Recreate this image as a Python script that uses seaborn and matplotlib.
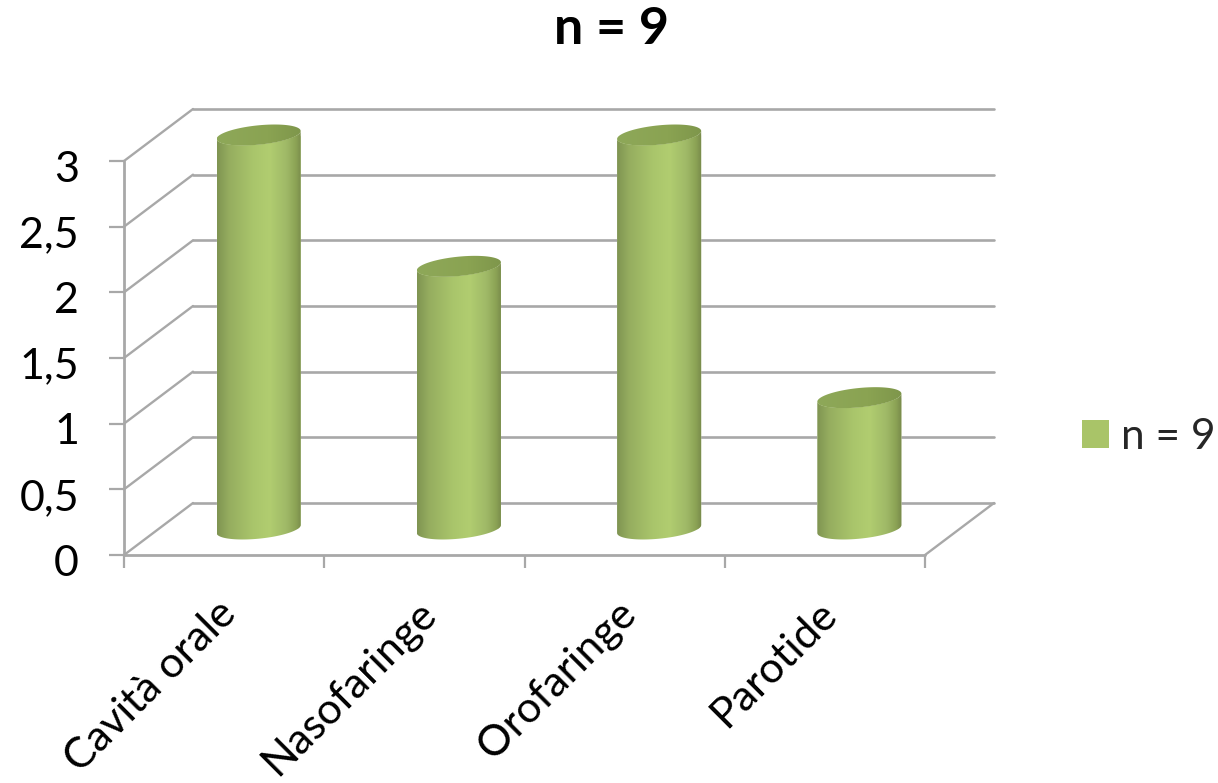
import numpy as np
import matplotlib
matplotlib.use("Agg")
import matplotlib.pyplot as plt
import seaborn as sns
from matplotlib.colors import LinearSegmentedColormap
from matplotlib.patches import Patch, PathPatch
from matplotlib.path import Path
from matplotlib.transforms import ScaledTranslation

categories = ["Cavità orale", "Nasofaringe", "Orofaringe", "Parotide"]
values = [3, 2, 3, 1]
series_name = "n = 9"
y_ticks = [0, 0.5, 1, 1.5, 2, 2.5, 3]
y_tick_labels = ["0", "0,5", "1", "1,5", "2", "2,5", "3"]

WIDTH, HEIGHT, DPI = 1218, 783, 100
# Front plane of the chart box, in pixels from the top-left corner
LEFT, RIGHT, BOTTOM, TOP = 124, 925, 555, 161
# Depth of the box, in pixels
DEPTH_X, DEPTH_Y = 69, 52
GRID = "#a8a8a8"

sns.set_style("white")
plt.rcParams["font.family"] = ["Lato", "DejaVu Sans"]

fig = plt.figure(figsize=(WIDTH / DPI, HEIGHT / DPI), dpi=DPI)
ax = fig.add_axes([LEFT / WIDTH, 1 - BOTTOM / HEIGHT,
                   (RIGHT - LEFT) / WIDTH, (BOTTOM - TOP) / HEIGHT])

sns.barplot(x=categories, y=values, ax=ax, width=0.42, color="#a9c468",
            saturation=1, zorder=3)
ax.set_xlim(-0.5, len(categories) - 0.5)
ax.set_ylim(0, 3)

px_x = (len(categories)) / (RIGHT - LEFT)
px_y = 3 / (BOTTOM - TOP)
dx, dy = DEPTH_X * px_x, DEPTH_Y * px_y

# Back wall and side wall grid lines, running from the front edge to the back
x0, x1 = ax.get_xlim()
for v in y_ticks:
    ax.plot([x0, x0 + dx], [v, v + dy], color=GRID, lw=1.7, clip_on=False,
            zorder=1, solid_capstyle="round")
    ax.plot([x0 + dx, x1 + dx], [v + dy, v + dy], color=GRID, lw=1.9,
            clip_on=False, zorder=1)
ax.plot([x1, x1 + dx], [0, dy], color=GRID, lw=1.7, clip_on=False, zorder=1,
        solid_capstyle="round")

# Cylinders stand halfway through the depth of the box
shift = ScaledTranslation(DEPTH_X / 2 / DPI, DEPTH_Y / 2 / DPI, fig.dpi_scale_trans)
bar_trans = ax.transData + shift

body_cmap = LinearSegmentedColormap.from_list(
    "body", [(0, "#7f9452"), (0.14, "#95ad5f"), (0.42, "#a9c56b"), (0.62, "#b1cd70"),
             (0.82, "#9fb967"), (0.93, "#8ca355"), (1, "#77894b")])
cap_cmap = LinearSegmentedColormap.from_list(
    "cap", [(0, "#8ea859"), (0.6, "#8aa352"), (1, "#7e964b")])
gradient = np.linspace(0, 1, 256).reshape(1, -1)

TILT = 4 * px_y
RY = 9.7 * px_y
t_front = np.linspace(np.pi, 2 * np.pi, 60)
t_all = np.linspace(0, 2 * np.pi, 120)


def ellipse(cx, cy, a, t):
    return cx + a * np.cos(t), cy + RY * np.sin(t) + TILT * np.cos(t)


for bar, value in zip(ax.patches, values):
    a = bar.get_width() / 2
    cx = bar.get_x() + a
    h = bar.get_height()

    bx, by = ellipse(cx, 0, a, t_front)
    tx, ty = ellipse(cx, h, a, t_front[::-1])
    outline = np.vstack([np.column_stack([bx, by]), np.column_stack([tx, ty]),
                         [[bx[0], by[0]]]])
    body = PathPatch(Path(outline, closed=True), transform=bar_trans,
                     facecolor="none", edgecolor="none", zorder=3, clip_on=False)
    ax.add_patch(body)
    bar.set_transform(bar_trans)
    bar.set_clip_box(fig.bbox)
    bar.set_clip_path(body)

    im = ax.imshow(gradient, cmap=body_cmap, aspect="auto", zorder=3.1,
                   extent=(cx - a, cx + a, -0.2, h + 0.2), transform=bar_trans,
                   interpolation="bilinear")
    im.set_clip_box(fig.bbox)
    im.set_clip_path(body)

    cap_x, cap_y = ellipse(cx, h, a, t_all)
    cap = PathPatch(Path(np.column_stack([cap_x, cap_y]), closed=True),
                    transform=bar_trans, facecolor="none", edgecolor="none",
                    zorder=3.2, clip_on=False)
    ax.add_patch(cap)
    cap_im = ax.imshow(gradient, cmap=cap_cmap, aspect="auto", zorder=3.3,
                       extent=(cx - a, cx + a, h - 0.2, h + 0.2), transform=bar_trans,
                       interpolation="bilinear")
    cap_im.set_clip_box(fig.bbox)
    cap_im.set_clip_path(cap)

ax.set_xlim(-0.5, len(categories) - 0.5)
ax.set_ylim(0, 3)

sns.despine(ax=ax, left=True, bottom=True, right=True, top=True)
ax.axvline(x0, color=GRID, lw=2, clip_on=False, zorder=1)
ax.axhline(0, color=GRID, lw=2, clip_on=False, zorder=1)

ax.set_yticks(y_ticks)
ax.set_yticklabels(y_tick_labels, fontsize=31, color="black")
ax.tick_params(axis="y", left=True, length=10.8, width=1.6, color=GRID, pad=23)
y_nudge = ScaledTranslation(2 / DPI, -5 / DPI, fig.dpi_scale_trans)
for label in ax.get_yticklabels():
    label.set_transform(label.get_transform() + y_nudge)

ax.set_xticks(range(len(categories)))
ax.set_xticklabels(categories, fontsize=31, rotation=45, ha="right",
                   rotation_mode="anchor", color="black")
ax.tick_params(axis="x", which="major", bottom=False, length=0, pad=28)
ax.set_xticks(np.arange(len(categories) + 1) - 0.5, minor=True)
ax.tick_params(axis="x", which="minor", bottom=True, length=9.5, width=1.6, color=GRID)
x_nudge = ScaledTranslation(-8 / DPI, 0, fig.dpi_scale_trans)
for label in ax.get_xticklabels():
    label.set_transform(label.get_transform() + x_nudge)

fig.text(611 / WIDTH, 1 - 30 / HEIGHT, series_name, fontsize=37.5, fontweight="bold",
         ha="center", va="center", color="black")

handle = Patch(facecolor="#a9c468", edgecolor="none", label=series_name)
fig.legend(handles=[handle], loc="center left", frameon=False, fontsize=30.5,
           bbox_to_anchor=(1082 / WIDTH, 1 - 437 / HEIGHT), borderpad=0,
           borderaxespad=0, handlelength=0.63, handleheight=0.63, handletextpad=0.3)

fig.savefig("out.png", dpi=DPI)
